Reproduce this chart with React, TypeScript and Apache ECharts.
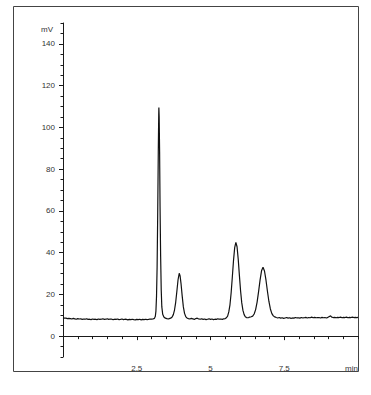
import React, { useEffect, useRef } from "react";
import * as echarts from "echarts";

// retention time (min) and detector signal (mV)
const baselineStart: [number, number][] = [
  [0.0, 8.8], [0.05, 8.6], [0.1, 8.6], [0.15, 8.4], [0.2, 8.5], [0.25, 8.4], [0.3, 8.2], [0.35, 8.5],
  [0.4, 8.3], [0.45, 8.1], [0.5, 8.4], [0.55, 8.2], [0.6, 8.3], [0.65, 8.0], [0.7, 8.2], [0.75, 8.1],
  [0.8, 8.3], [0.85, 8.0], [0.9, 8.1], [0.95, 7.9], [1.0, 8.2], [1.05, 8.0], [1.1, 8.1], [1.15, 7.9],
  [1.2, 8.2], [1.25, 8.0], [1.3, 8.1], [1.35, 8.3], [1.4, 8.0], [1.45, 8.1], [1.5, 8.3], [1.55, 8.0],
  [1.6, 8.2], [1.65, 8.1], [1.7, 7.9], [1.75, 8.1], [1.8, 8.0], [1.85, 8.2], [1.9, 7.9], [1.95, 8.0],
  [2.0, 8.2], [2.05, 7.9], [2.1, 8.1], [2.15, 8.0], [2.2, 7.8], [2.25, 8.0], [2.3, 7.9], [2.35, 8.1],
  [2.4, 7.9], [2.45, 7.8], [2.5, 8.0], [2.55, 7.9], [2.6, 8.1], [2.65, 7.8], [2.7, 8.0], [2.75, 7.9],
  [2.8, 8.1], [2.85, 7.9], [2.9, 8.0], [2.95, 8.2], [3.0, 8.1], [3.05, 8.2],
];
const peak1: [number, number][] = [
  [3.1, 8.5], [3.13, 9.5], [3.15, 12], [3.17, 19], [3.19, 33], [3.21, 58], [3.23, 88], [3.245, 106],
  [3.25, 109.5], [3.26, 105], [3.275, 88], [3.29, 62], [3.31, 38], [3.33, 22], [3.35, 14], [3.38, 10.5],
  [3.42, 9.2], [3.47, 8.6], [3.52, 8.4], [3.57, 8.3],
];
const peak2: [number, number][] = [
  [3.6, 8.4], [3.65, 8.6], [3.7, 9.2], [3.74, 10.3], [3.78, 12.5], [3.82, 16.2], [3.86, 21.5], [3.9, 27],
  [3.94, 30.1], [3.97, 28.8], [4.0, 25.3], [4.04, 19.3], [4.08, 14.0], [4.12, 10.9], [4.16, 9.4],
  [4.2, 8.7], [4.25, 8.4],
];
const baselineMid: [number, number][] = [
  [4.3, 8.2], [4.35, 8.5], [4.4, 8.3], [4.45, 8.0], [4.5, 8.4], [4.55, 8.6], [4.6, 8.2], [4.65, 8.1],
  [4.7, 8.3], [4.75, 8.0], [4.8, 8.2], [4.85, 7.9], [4.9, 8.1], [4.95, 8.3], [5.0, 8.0], [5.05, 8.2],
  [5.1, 7.9], [5.15, 8.1], [5.2, 8.0], [5.25, 8.3], [5.3, 8.1], [5.35, 8.2], [5.4, 8.0], [5.45, 8.3],
];
const peak3: [number, number][] = [
  [5.5, 8.4], [5.54, 8.8], [5.58, 9.6], [5.62, 11.6], [5.66, 15.0], [5.7, 20.8], [5.74, 28.3], [5.78, 36.2],
  [5.82, 42.4], [5.86, 44.9], [5.9, 42.8], [5.94, 36.8], [5.98, 29.0], [6.02, 21.6], [6.06, 15.9],
  [6.1, 12.3], [6.14, 10.3], [6.18, 9.3], [6.22, 8.9], [6.26, 8.8], [6.29, 8.9],
];
const peak4: [number, number][] = [
  [6.33, 9.1], [6.38, 9.3], [6.43, 9.6], [6.48, 10.6], [6.53, 12.7], [6.58, 16.3], [6.63, 21.3],
  [6.68, 26.8], [6.73, 31.3], [6.78, 33.0], [6.83, 31.2], [6.88, 26.9], [6.93, 21.5], [6.98, 16.6],
  [7.03, 13.0], [7.08, 10.8], [7.13, 9.7], [7.18, 9.2], [7.23, 8.9],
];
const baselineEnd: [number, number][] = [
  [7.28, 8.7], [7.33, 8.9], [7.38, 8.6], [7.43, 8.8], [7.48, 8.5], [7.53, 8.7], [7.58, 8.9], [7.63, 8.6],
  [7.68, 8.8], [7.73, 8.5], [7.78, 8.7], [7.83, 8.6], [7.88, 8.9], [7.93, 8.7], [7.98, 8.8], [8.03, 8.6],
  [8.08, 8.9], [8.13, 8.7], [8.18, 8.8], [8.23, 9.0], [8.28, 8.7], [8.33, 8.9], [8.38, 8.8], [8.43, 9.1],
  [8.48, 8.8], [8.53, 9.0], [8.58, 8.8], [8.63, 8.9], [8.68, 8.9], [8.73, 8.7], [8.78, 9.0], [8.83, 8.8],
  [8.88, 8.9], [8.93, 8.7], [8.98, 9.0], [9.03, 9.4], [9.07, 9.7], [9.11, 9.1], [9.16, 8.9], [9.21, 9.0],
  [9.26, 8.8], [9.31, 9.0], [9.36, 8.9], [9.41, 9.1], [9.46, 8.8], [9.51, 9.0], [9.56, 8.9], [9.61, 9.1],
  [9.66, 8.8], [9.71, 9.0], [9.76, 8.9], [9.81, 9.1], [9.86, 8.9], [9.91, 9.0], [9.96, 8.9], [10.0, 9.0],
];

const yTickLabels = [0, 20, 40, 60, 80, 100, 120, 140];
const xTickLabels = [2.5, 5, 7.5, 10];
const xAxisUnit = "min";
const yAxisUnit = "mV";

const trace = [
  ...baselineStart, ...peak1, ...peak2, ...baselineMid, ...peak3, ...peak4, ...baselineEnd,
];

const FONT = "'Liberation Sans', Arial, sans-serif";
const TEXT = "#333333";
const AXIS = "#1a1a1a";
const FS = 8;

export default function App() {
  const ref = useRef<HTMLDivElement>(null);
  useEffect(() => {
    if (!ref.current) return;
    const chart = echarts.init(ref.current, null, { renderer: "svg" });
    chart.setOption({
      animation: false,
      backgroundColor: "#ffffff",
      grid: { left: 63, top: 23, right: 13, bottom: 38 },
      graphic: [
        {
          type: "rect",
          shape: { x: 13.5, y: 6.5, width: 345, height: 365 },
          style: { fill: "none", stroke: "#444", lineWidth: 1 },
          silent: true,
        },
      ],
      xAxis: [
        {
          type: "value", min: 0, max: 10, interval: 0.5, position: "bottom",
          axisLine: { show: true, lineStyle: { color: AXIS, width: 1 } },
          axisTick: { show: true, length: 3, lineStyle: { color: AXIS } },
          axisLabel: { show: false },
          splitLine: { show: false },
        },
        {
          type: "value", min: 0, max: 10, position: "bottom",
          axisLine: { show: false },
          axisTick: { show: true, length: 4, customValues: xTickLabels.slice(0, 3), lineStyle: { color: AXIS } },
          axisLabel: {
            show: true, customValues: xTickLabels, margin: 7, fontSize: FS, fontFamily: FONT, color: TEXT,
            alignMaxLabel: "right",
            formatter: (v: number) => (v === 10 ? xAxisUnit : String(v)),
          },
          splitLine: { show: false },
        },
      ],
      yAxis: [
        {
          type: "value", min: -10, max: 150, interval: 5, position: "left",
          axisLine: { show: true, lineStyle: { color: AXIS, width: 1 } },
          axisTick: { show: true, length: 2.5, lineStyle: { color: AXIS } },
          axisLabel: { show: false },
          splitLine: { show: false },
        },
        {
          type: "value", min: -10, max: 150, position: "left",
          axisLine: { show: false },
          axisTick: { show: true, length: 4, customValues: yTickLabels, lineStyle: { color: AXIS } },
          axisLabel: {
            show: true, customValues: yTickLabels, margin: 8, fontSize: FS, fontFamily: FONT, color: TEXT,
          },
          splitLine: { show: false },
          name: yAxisUnit,
          nameLocation: "end",
          nameGap: -6,
          nameTextStyle: {
            fontSize: FS, fontFamily: FONT, color: TEXT, align: "right", verticalAlign: "middle",
            padding: [0, 10, 0, 0],
          },
        },
      ],
      series: [
        {
          type: "line",
          xAxisIndex: 0,
          yAxisIndex: 0,
          data: trace,
          showSymbol: false,
          lineStyle: { color: "#111", width: 1.2 },
          silent: true,
        },
      ],
    });
    return () => chart.dispose();
  }, []);
  return (
    <div
      ref={ref}
      style={{ position: "fixed", left: 0, top: 0, width: 371, height: 395, background: "#fff" }}
    />
  );
}
